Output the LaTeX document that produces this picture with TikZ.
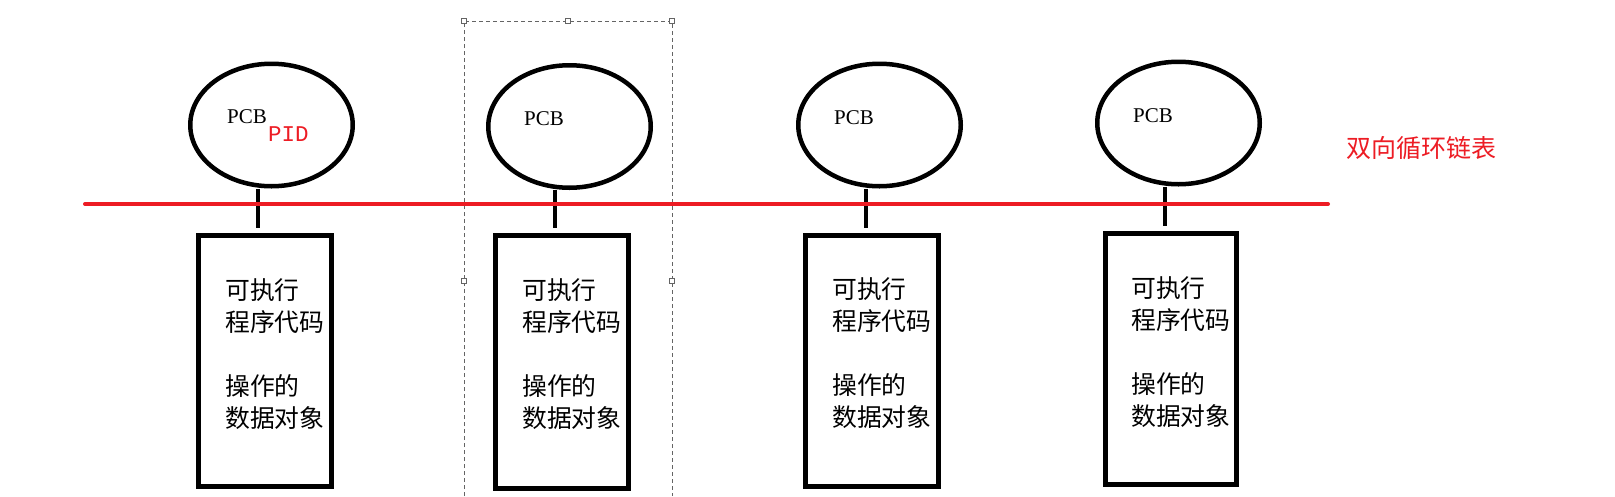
\documentclass[tikz,border=0pt]{standalone}
\usepackage{fontspec}
\setmainfont{Liberation Serif}
\newfontfamily\cjk{Noto Sans CJK SC}
\newfontfamily\monof{Liberation Mono}
\usetikzlibrary{shapes.geometric}
\definecolor{pred}{RGB}{237,28,36}
\definecolor{selgray}{RGB}{100,100,100}
\begin{document}
\begin{tikzpicture}[x=1pt,y=-1pt,
  ell/.style={draw,line width=4.5pt,ellipse,minimum width=162.5pt,minimum height=122.5pt,inner sep=0pt},
  pbox/.style={draw,line width=5pt,rectangle,minimum width=133pt,minimum height=251pt,inner sep=0pt},
  stem/.style={line width=4.5pt},
  btxt/.style={anchor=north west,inner sep=0pt,align=left,font=\cjk\fontsize{24.8}{32}\selectfont},
  pcb/.style={anchor=base west,inner sep=0pt,font=\fontsize{21}{24}\selectfont},
  pidtxt/.style={anchor=base west,inner sep=0pt,text=pred,font=\monof\fontsize{22.5}{24}\selectfont},
  redline/.style={draw=pred,line width=4pt,line cap=round},
  sel/.style={draw=selgray,line width=0.8pt,dash pattern=on 4pt off 3pt},
  handle/.style={draw=selgray,fill=white,line width=0.8pt,minimum size=5pt,inner sep=0pt,rectangle}]
\fill[white] (0,0) rectangle (1615,496);
\useasboundingbox (0,0) rectangle (1615,496);
% selection frame
\draw[sel] (464,496) -- (464,21) -- (672,21) -- (672,496);
\node[handle] (h1) at (464,21) {};
\node[handle] (h2) at (568,21) {};
\node[handle] (h3) at (672,21) {};
\node[handle] (h4) at (464,281) {};
\node[handle] (h5) at (672,281) {};
% ellipses
\node[ell] (e1) at (271.5,125) {};
\node[ell] (e2) at (569.5,126.5) {};
\node[ell] (e3) at (879.5,125) {};
\node[ell] (e4) at (1178.5,123) {};
% boxes
\node[pbox] (b1) at (265,361) {};
\node[pbox,minimum height=253pt] (b2) at (562,362) {};
\node[pbox] (b3) at (872,361) {};
\node[pbox,minimum width=131pt] (b4) at (1171,359) {};
% stems
\draw[stem] ([xshift=-13.5pt]e1.south) -- ([xshift=-13.5pt,yshift=5.5pt]e1.south |- b1.north);
\draw[stem] ([xshift=-14.5pt]e2.south) -- ([xshift=-14.5pt,yshift=5pt]e2.south |- b2.north);
\draw[stem] ([xshift=-13.5pt]e3.south) -- ([xshift=-13.5pt,yshift=5pt]e3.south |- b3.north);
\draw[stem] ([xshift=-13.5pt]e4.south) -- ([xshift=-13.5pt,yshift=5pt]e4.south |- b4.north);
% red list line
\coordinate (redL) at (85,204);
\coordinate (redR) at (1328,204);
\draw[redline] (redL) -- (redR);
\node[anchor=base west,inner sep=0pt,text=pred,font=\cjk\fontsize{25}{28}\selectfont] (lbl) at (1346,157) {双向循环链表};
% PCB labels
\node[pcb] (p1) at (227,123) {PCB};
\node[pidtxt] (pid) at (268,141) {PID};
\node[pcb] (p2) at (524,125) {PCB};
\node[pcb] (p3) at (834,124) {PCB};
\node[pcb] (p4) at (1133,122) {PCB};
% box texts
\node[btxt] (t1) at (225,278) {可执行\\程序代码\\[32pt]操作的\\数据对象};
\node[btxt] (t2) at (522,278) {可执行\\程序代码\\[32pt]操作的\\数据对象};
\node[btxt] (t3) at (832,277) {可执行\\程序代码\\[32pt]操作的\\数据对象};
\node[btxt] (t4) at (1131,276) {可执行\\程序代码\\[32pt]操作的\\数据对象};
\end{tikzpicture}
\end{document}
